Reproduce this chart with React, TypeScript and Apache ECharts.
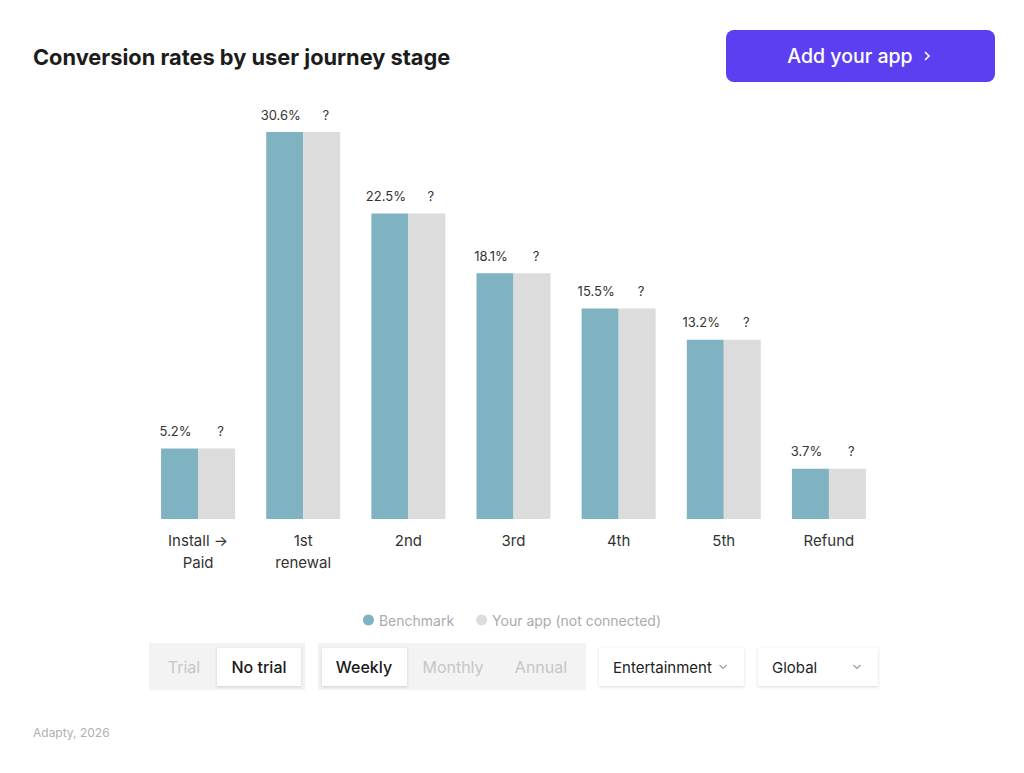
import React, { useEffect, useRef } from "react";
import * as echarts from "echarts";

const categories = ["Install →\nPaid", "1st\nrenewal", "2nd", "3rd", "4th", "5th", "Refund"];
const benchmark = [5.2, 30.6, 22.5, 18.1, 15.5, 13.2, 3.7];
const yourApp = [5.2, 30.6, 22.5, 18.1, 15.5, 13.2, 3.7];
const seriesNames = ["Benchmark", "Your app (not connected)"];
const trialOptions = ["Trial", "No trial"];
const periodOptions = ["Weekly", "Monthly", "Annual"];
const FONT = "Inter, 'Noto Sans', sans-serif";

function chevron(cx: number, cy: number) {
  return {
    type: "polyline",
    shape: { points: [[cx - 3.5, cy - 2], [cx, cy + 1.5], [cx + 3.5, cy - 2]] },
    style: { stroke: "#9a9a9a", lineWidth: 1.1, fill: null },
  };
}

export default function App() {
  const ref = useRef<HTMLDivElement>(null);
  useEffect(() => {
    if (!ref.current) return;
    const chart = echarts.init(ref.current, null, { renderer: "svg" });
    const shadow = { shadowBlur: 3, shadowColor: "rgba(0,0,0,0.15)", shadowOffsetY: 1 };
    const seg = (t: string, cx: number, active: boolean) => ({
      type: "text",
      style: {
        text: t, x: cx, y: 667, align: "center", verticalAlign: "middle",
        fontSize: 16, fontFamily: FONT, fontWeight: active ? 500 : 400,
        fill: active ? "#1a1a1a" : "#c6c6c6",
      },
    });
    chart.setOption({
      animation: false,
      backgroundColor: "#ffffff",
      textStyle: { fontFamily: FONT },
      legend: {
        data: seriesNames,
        left: "center",
        top: 608,
        icon: "circle",
        itemWidth: 11,
        itemHeight: 11,
        itemGap: 22,
        textStyle: { color: "#ababab", fontSize: 14, fontFamily: FONT },
        selectedMode: false,
      },
      grid: { left: 145.5, width: 736, top: 132, height: 387 },
      xAxis: {
        type: "category",
        data: categories,
        axisLine: { show: false },
        axisTick: { show: false },
        axisLabel: { color: "#333333", fontSize: 15, lineHeight: 22, margin: 10, fontFamily: FONT },
      },
      yAxis: {
        type: "value",
        min: 0,
        max: 28.5,
        show: false,
        splitLine: { show: false },
      },
      series: [
        {
          name: seriesNames[0],
          type: "bar",
          data: benchmark,
          barWidth: 37,
          barGap: "0%",
          clip: true,
          itemStyle: { color: "#7fb3c2" },
          label: {
            show: true, position: "top", distance: 11, offset: [-4, 0],
            color: "#333333", fontSize: 13, fontFamily: FONT,
            formatter: (p: any) => p.value + "%",
          },
        },
        {
          name: seriesNames[1],
          type: "bar",
          data: yourApp,
          barWidth: 37,
          barGap: "0%",
          clip: true,
          itemStyle: { color: "#dcdcdc" },
          label: {
            show: true, position: "top", distance: 11, offset: [4, 0],
            color: "#333333", fontSize: 13, fontFamily: FONT,
            formatter: () => "?",
          },
        },
      ],
      graphic: [
        {
          type: "text",
          style: {
            text: "Conversion rates by user journey stage", x: 33, y: 57,
            verticalAlign: "middle", fontSize: 21.8, fontWeight: 700,
            fontFamily: FONT, fill: "#1c1c1c",
          },
        },
        {
          type: "rect",
          shape: { x: 726, y: 30, width: 269, height: 52, r: 8 },
          style: { fill: "#5b3ff0" },
        },
        {
          type: "text",
          style: {
            text: "Add your app", x: 850, y: 56, align: "center", verticalAlign: "middle",
            fontSize: 19.5, fontWeight: 500, fontFamily: FONT, fill: "#ffffff",
          },
        },
        {
          type: "polyline",
          shape: { points: [[925, 52], [929, 56], [925, 60]] },
          style: { stroke: "#ffffff", lineWidth: 1.6, fill: null },
        },
        { type: "rect", shape: { x: 149, y: 643, width: 156, height: 47 }, style: { fill: "#f3f3f3" } },
        { type: "rect", shape: { x: 217, y: 648, width: 84, height: 38 }, style: { fill: "#ffffff", ...shadow } },
        seg(trialOptions[0], 184, false),
        seg(trialOptions[1], 259, true),
        { type: "rect", shape: { x: 318, y: 643, width: 268, height: 47 }, style: { fill: "#f3f3f3" } },
        { type: "rect", shape: { x: 322, y: 648, width: 85, height: 38 }, style: { fill: "#ffffff", ...shadow } },
        seg(periodOptions[0], 364, true),
        seg(periodOptions[1], 453, false),
        seg(periodOptions[2], 541, false),
        { type: "rect", shape: { x: 599, y: 648, width: 145, height: 38 }, style: { fill: "#ffffff", ...shadow } },
        {
          type: "text",
          style: {
            text: "Entertainment", x: 613, y: 667, verticalAlign: "middle",
            fontSize: 15, fontWeight: 400, fontFamily: FONT, fill: "#222222",
          },
        },
        chevron(723, 667),
        { type: "rect", shape: { x: 758, y: 648, width: 120, height: 38 }, style: { fill: "#ffffff", ...shadow } },
        {
          type: "text",
          style: {
            text: "Global", x: 772, y: 667, verticalAlign: "middle",
            fontSize: 15, fontWeight: 400, fontFamily: FONT, fill: "#222222",
          },
        },
        chevron(857, 667),
        {
          type: "text",
          style: {
            text: "Adapty, 2026", x: 33, y: 732, verticalAlign: "middle",
            fontSize: 12, fontFamily: FONT, fill: "#b0b0b0",
          },
        },
      ],
    });
    return () => chart.dispose();
  }, []);
  return (
    <div
      ref={ref}
      style={{ position: "absolute", left: 0, top: 0, width: 1024, height: 773, background: "#fff" }}
    />
  );
}
